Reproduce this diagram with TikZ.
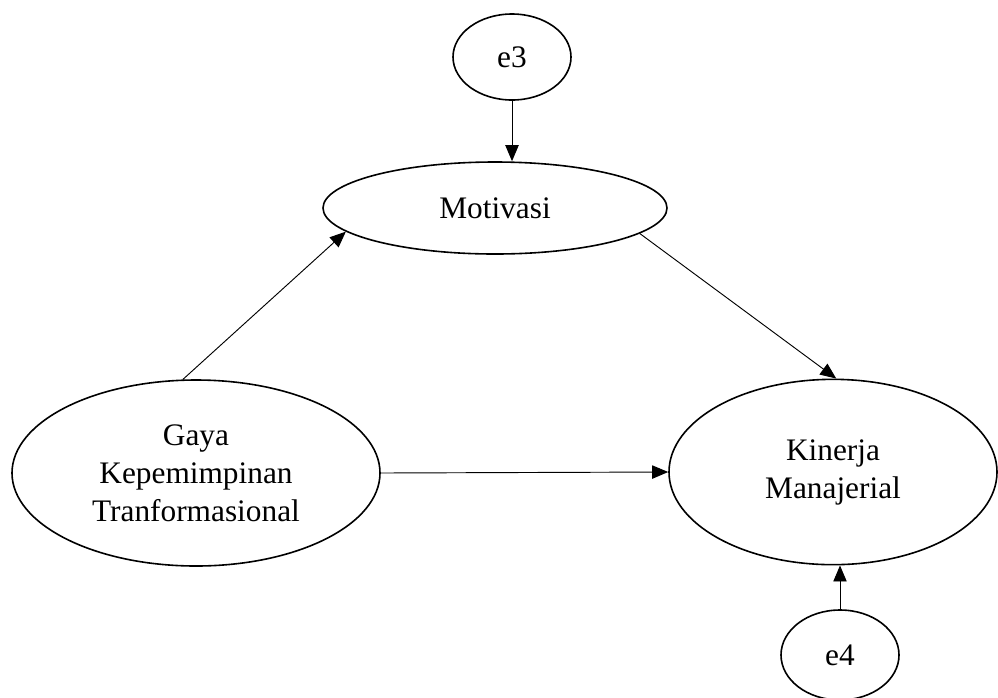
\documentclass[tikz,border=0pt]{standalone}
\usepackage{fontspec}
\setmainfont{Liberation Serif}
\usetikzlibrary{shapes.geometric,arrows.meta}

\begin{document}
\begin{tikzpicture}[x=0.75pt,y=-0.75pt,
    var/.style={draw,ellipse,line width=1.2pt,inner sep=0pt,align=center,
        font=\fontsize{23.5}{28.5}\selectfont},
    arr/.style={-{Triangle[length=12pt,width=10pt]},line width=0.7pt}]
    \useasboundingbox (0,0) rectangle (998,697);
    % variabel
    \node[var,minimum width=88.5pt,minimum height=64.5pt] (e3) at (512,57) {e3};
    \node[var,minimum width=258pt,minimum height=69pt] (motivasi) at (495,208) {Motivasi};
    \node[var,minimum width=276pt,minimum height=139.5pt] (gaya) at (196,473) {Gaya\\Kepemimpinan\\Tranformasional};
    \node[var,minimum width=246pt,minimum height=139pt] (kinerja) at (833,472) {Kinerja\\Manajerial};
    \node[var,minimum width=88.5pt,minimum height=67.5pt] (e4) at (840,655) {e4};
    % jalur
    \draw[arr] (e3.south) -- (e3.south |- motivasi.north);
    \draw[arr] (gaya.98) -- (motivasi.189);
    \draw[arr] (motivasi.350) -- (kinerja.88);
    \draw[arr] (gaya.east) -- (kinerja.west);
    \draw[arr] (e4.north) -- (e4.north |- kinerja.south);
\end{tikzpicture}
\end{document}
